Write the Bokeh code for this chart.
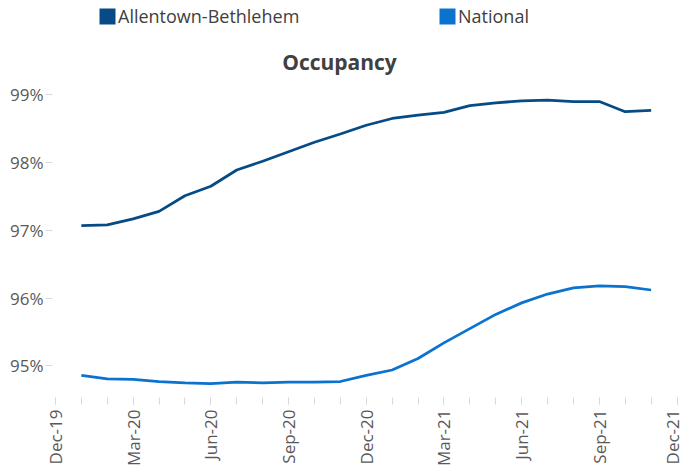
import math
from bokeh.plotting import figure
from bokeh.models import Range1d, FixedTicker, Legend, LegendItem, Label, ColumnDataSource
from bokeh.embed import file_html
from bokeh.resources import INLINE

# ---- data ----
months = ["Jan-20", "Feb-20", "Mar-20", "Apr-20", "May-20", "Jun-20", "Jul-20", "Aug-20",
          "Sep-20", "Oct-20", "Nov-20", "Dec-20", "Jan-21", "Feb-21", "Mar-21", "Apr-21",
          "May-21", "Jun-21", "Jul-21", "Aug-21", "Sep-21", "Oct-21", "Nov-21"]
month_index = list(range(1, 24))  # months after Dec-19
allentown = [97.07, 97.08, 97.17, 97.28, 97.51, 97.65, 97.89, 98.02, 98.16, 98.30, 98.42,
             98.55, 98.65, 98.70, 98.74, 98.84, 98.88, 98.91, 98.92, 98.90, 98.90, 98.75, 98.77]
national = [94.86, 94.81, 94.80, 94.77, 94.75, 94.74, 94.76, 94.75, 94.76, 94.76, 94.77,
            94.86, 94.94, 95.11, 95.34, 95.55, 95.76, 95.93, 96.06, 96.15, 96.18, 96.17, 96.12]
series_names = ["Allentown-Bethlehem", "National"]
x_tick_positions = [0, 3, 6, 9, 12, 15, 18, 21, 24]
x_tick_labels = ["Dec-19", "Mar-20", "Jun-20", "Sep-20", "Dec-20", "Mar-21", "Jun-21", "Sep-21", "Dec-21"]
y_ticks = [95, 96, 97, 98, 99]
y_tick_labels = ["95%", "96%", "97%", "98%", "99%"]
title_text = "Occupancy"

DARK = "#064A86"
LIGHT = "#0A72CF"
AXIS_TEXT = "#595959"
TICK = "#d9d9d9"
FONT = "Open Sans"

src = ColumnDataSource(dict(m=month_index, a=allentown, n=national, label=months))

p = figure(width=683, height=469, output_backend="svg", toolbar_location=None,
           x_range=Range1d(-0.114, 24.25), y_range=Range1d(94.49, 100.39),
           min_border_left=52, min_border_right=0, min_border_top=0, min_border_bottom=40)
p.outline_line_color = None
p.xgrid.visible = False
p.ygrid.visible = False

p.line(x="m", y="a", source=src, line_color=DARK, line_width=2.75)
p.line(x="m", y="n", source=src, line_color=LIGHT, line_width=2.75)

# x axis
xa = p.xaxis[0]
xa.ticker = FixedTicker(ticks=x_tick_positions, minor_ticks=list(range(0, 25)))
xa.major_label_overrides = {t: l for t, l in zip(x_tick_positions, x_tick_labels)}
xa.major_label_orientation = math.pi / 2
xa.axis_line_color = None
xa.major_tick_line_color = TICK
xa.minor_tick_line_color = TICK
xa.major_tick_in = 3
xa.major_tick_out = 4
xa.minor_tick_in = 3
xa.minor_tick_out = 4
xa.major_label_standoff = 5
xa.major_label_text_font = FONT
xa.major_label_text_font_size = "17px"
xa.major_label_text_color = AXIS_TEXT

# y axis
ya = p.yaxis[0]
ya.ticker = FixedTicker(ticks=y_ticks, minor_ticks=[])
ya.major_label_overrides = {t: l for t, l in zip(y_ticks, y_tick_labels)}
ya.axis_line_color = None
ya.major_tick_line_color = TICK
ya.major_tick_in = 0
ya.major_tick_out = 7
ya.minor_tick_line_color = None
ya.major_label_standoff = 2
ya.major_label_text_font = FONT
ya.major_label_text_font_size = "17px"
ya.major_label_text_color = AXIS_TEXT

# legend swatches (zero-area quads driven by the series data; only their legend glyph shows)
sw1 = p.quad(left="m", right="m", top="a", bottom="a", source=src, fill_color=DARK, line_color=None)
sw2 = p.quad(left="m", right="m", top="n", bottom="n", source=src, fill_color=LIGHT, line_color=None)

def make_legend(name, rend, loc):
    return Legend(items=[LegendItem(label=name, renderers=[rend])], location=loc,
                  orientation="horizontal", glyph_width=20, glyph_height=20, label_height=20,
                  label_standoff=1, padding=0, margin=0, spacing=0,
                  border_line_color=None, background_fill_alpha=0,
                  label_text_font=FONT, label_text_font_size="18px",
                  label_text_color="#404040")

p.add_layout(make_legend(series_names[0], sw1, (45, 372)))
p.add_layout(make_legend(series_names[1], sw2, (385, 372)))

p.add_layout(Label(x=287, y=339, x_units="screen", y_units="screen", text=title_text,
                   text_align="center", text_baseline="middle", text_font=FONT,
                   text_font_size="21px", text_font_style="bold", text_color="#404040"))

open("out.html", "w").write(file_html(p, INLINE))
